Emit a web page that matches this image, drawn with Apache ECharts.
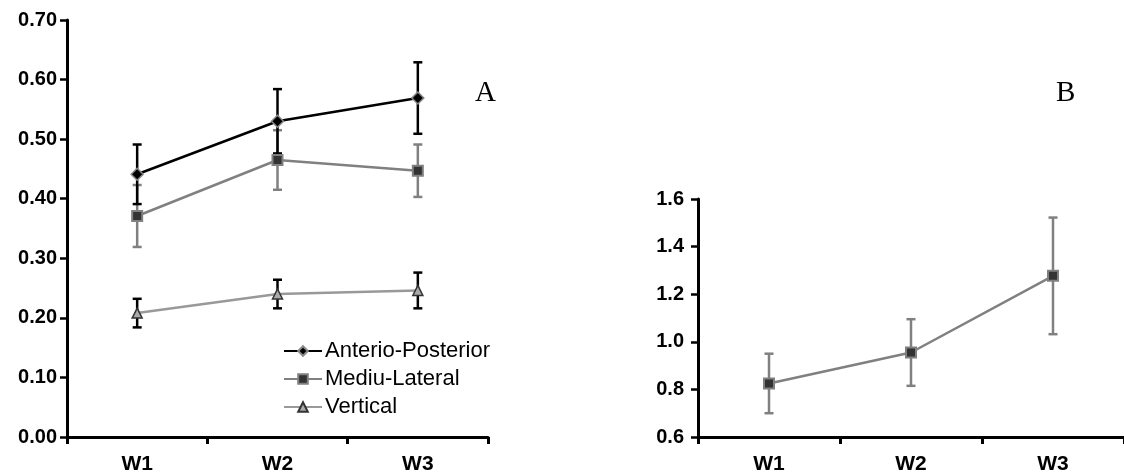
<!DOCTYPE html>
<html><head><meta charset="utf-8">
<script src="https://cdn.jsdelivr.net/npm/echarts@6/dist/echarts.min.js"></script>
<style>html,body{margin:0;padding:0;background:#fff}#c{width:1124px;height:476px}</style>
</head><body><div id="c"></div>
<script>
const categories = ['W1', 'W2', 'W3'];
const apMean = [0.441, 0.530, 0.569];
const apErr = [0.050, 0.054, 0.060];
const mlMean = [0.371, 0.465, 0.447];
const mlErr = [0.052, 0.050, 0.044];
const vMean = [0.208, 0.240, 0.246];
const vErr = [0.024, 0.024, 0.030];
const bMean = [0.825, 0.955, 1.277];
const bErr = [0.125, 0.140, 0.245];
const yTicksA = [0, 0.7, 0.1];
const yTicksB = [0.6, 1.6, 0.2];

const chart = echarts.init(document.getElementById('c'), null, {renderer: 'canvas'});
const FONT = '"Liberation Sans", Arial, sans-serif';

function errData(mean, err) {
  return mean.map((m, i) => [i, m - err[i], m + err[i]]);
}
function errSeries(name, xi, yi, mean, err, color, z) {
  return {
    type: 'custom', name: name, xAxisIndex: xi, yAxisIndex: yi, z: z, silent: true,
    data: errData(mean, err),
    renderItem: function (params, api) {
      const lo = api.coord([api.value(0), api.value(1)]);
      const hi = api.coord([api.value(0), api.value(2)]);
      const w = 4.5;
      const st = {stroke: color, lineWidth: 2.5};
      return {type: 'group', children: [
        {type: 'line', shape: {x1: hi[0], y1: hi[1], x2: lo[0], y2: lo[1]}, style: st},
        {type: 'line', shape: {x1: hi[0] - w, y1: hi[1], x2: hi[0] + w, y2: hi[1]}, style: st},
        {type: 'line', shape: {x1: lo[0] - w, y1: lo[1], x2: lo[0] + w, y2: lo[1]}, style: st}
      ]};
    }
  };
}
const axisLine = {show: true, lineStyle: {color: '#000', width: 3}};
function xAxis(gi) {
  return {
    type: 'category', gridIndex: gi, data: categories, boundaryGap: true,
    axisLine: axisLine,
    axisTick: {show: true, inside: false, length: 7, lineStyle: {color: '#000', width: 3}},
    axisLabel: {color: '#000', fontFamily: FONT, fontWeight: 'bold', fontSize: 21, margin: 17},
    splitLine: {show: false}
  };
}
function yAxis(gi, t, dec, margin) {
  return {
    type: 'value', gridIndex: gi, min: t[0], max: t[1], interval: t[2],
    axisLine: axisLine,
    axisTick: {show: true, inside: false, length: 7, lineStyle: {color: '#000', width: 2.5}},
    axisLabel: {color: '#000', fontFamily: FONT, fontWeight: 'bold', fontSize: 20, margin: margin,
      formatter: v => v.toFixed(dec)},
    splitLine: {show: false}
  };
}

chart.setOption({
  animation: false,
  backgroundColor: '#fff',
  grid: [
    {left: 67, top: 20, width: 421, bottom: 39, containLabel: false},
    {left: 698, top: 199, width: 433, bottom: 39, containLabel: false}
  ],
  xAxis: [xAxis(0), xAxis(1)],
  yAxis: [yAxis(0, yTicksA, 2, 10), yAxis(1, yTicksB, 1, 14)],
  graphic: [
    {type: 'text', left: 475, top: 79, style: {text: 'A', font: '29px "Liberation Serif", "DejaVu Serif", serif', fill: '#000'}},
    {type: 'text', left: 1056, top: 79, style: {text: 'B', font: '29px "Liberation Serif", "DejaVu Serif", serif', fill: '#000'}}
  ],
  legend: {
    orient: 'vertical', left: 278, top: 335, itemGap: 6, itemWidth: 38, itemHeight: 12, itemSymbolKeepAspect: true,
    data: ['Anterio-Posterior', 'Mediu-Lateral', 'Vertical'],
    textStyle: {color: '#000', fontFamily: FONT, fontSize: 22, padding: [0, 0, 0, -2]}
  },
  series: [
    errSeries('apErr', 0, 0, apMean, apErr, '#000', 3),
    errSeries('mlErr', 0, 0, mlMean, mlErr, '#808080', 2),
    errSeries('vErr', 0, 0, vMean, vErr, '#000', 1),
    {
      name: 'Anterio-Posterior', type: 'line', xAxisIndex: 0, yAxisIndex: 0, data: apMean, z: 6,
      symbol: 'diamond', symbolSize: 12,
      lineStyle: {color: '#000', width: 2.5},
      itemStyle: {color: '#000', borderColor: '#888', borderWidth: 1.5}
    },
    {
      name: 'Mediu-Lateral', type: 'line', xAxisIndex: 0, yAxisIndex: 0, data: mlMean, z: 5,
      symbol: 'rect', symbolSize: 10,
      lineStyle: {color: '#808080', width: 2.5},
      itemStyle: {color: '#333', borderColor: '#808080', borderWidth: 2}
    },
    {
      name: 'Vertical', type: 'line', xAxisIndex: 0, yAxisIndex: 0, data: vMean, z: 4,
      symbol: 'triangle', symbolSize: 10,
      lineStyle: {color: '#999', width: 2.5},
      itemStyle: {color: '#aaa', borderColor: '#333', borderWidth: 1.5}
    },
    errSeries('bErr', 1, 1, bMean, bErr, '#808080', 2),
    {
      name: 'B', type: 'line', xAxisIndex: 1, yAxisIndex: 1, data: bMean, z: 5,
      symbol: 'rect', symbolSize: 10,
      lineStyle: {color: '#808080', width: 2.5},
      itemStyle: {color: '#333', borderColor: '#808080', borderWidth: 2}
    }
  ]
});
</script>
</body></html>
